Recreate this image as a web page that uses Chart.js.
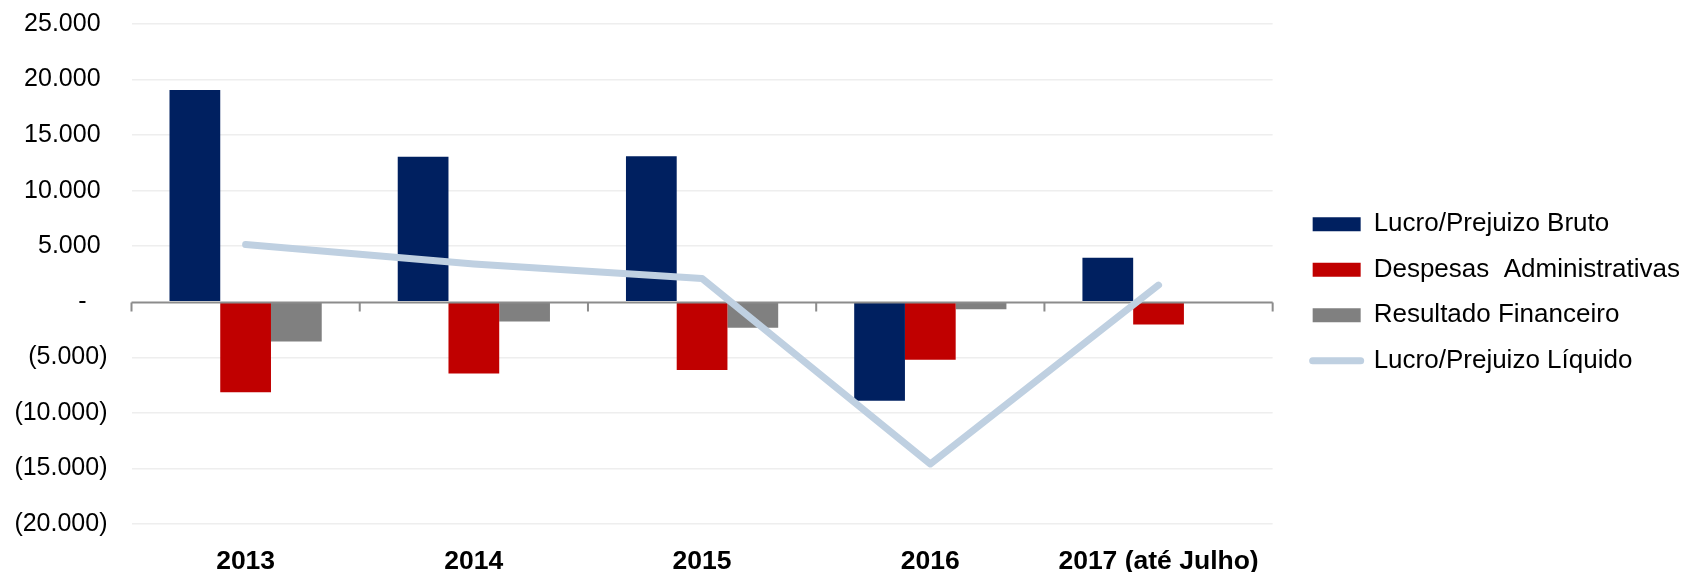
<!DOCTYPE html>
<html>
<head>
<meta charset="utf-8">
<script src="https://cdn.jsdelivr.net/npm/chart.js@4.4.1/dist/chart.umd.min.js"></script>
<style>
  html, body { margin: 0; padding: 0; background: #fff; }
  #wrap { width: 1690px; height: 572px; }
</style>
</head>
<body>
<div id="wrap"><canvas id="chart" width="1690" height="572"></canvas></div>
<script>
const years = ['2013', '2014', '2015', '2016', '2017 (até Julho)'];
const lucroBruto = [19050, 13060, 13100, -8900, 3960];
const despesasAdm = [-8140, -6460, -6130, -5220, -2040];
const resultadoFin = [-3570, -1780, -2340, -680, -120];
const lucroLiquido = [5150, 3400, 2100, -14600, 1500];
const yTicks = [-20000, -15000, -10000, -5000, 0, 5000, 10000, 15000, 20000, 25000];

const FONT = "'Liberation Sans', Arial, sans-serif";
const AXIS_GRAY = '#8c8c8c';

function fmt(v) {
  const s = String(Math.abs(v)).replace(/\B(?=(\d{3})+(?!\d))/g, '.');
  if (v > 0) return s + '\u2008';
  if (v < 0) return '(' + s + ')';
  return '-\u2007\u2008';
}

// zero line with the little category ticks, drawn over the bars but under the line
const zeroAxis = {
  id: 'zeroAxis',
  afterDatasetDraw(chart, args) {
    if (args.index !== 0) return;
    const { ctx, chartArea, scales: { x, y } } = chart;
    const y0 = Math.round(y.getPixelForValue(0)) + 0.5;
    const n = years.length;
    const step = (x.right - x.left) / n;
    ctx.save();
    ctx.strokeStyle = AXIS_GRAY;
    ctx.lineWidth = 2;
    ctx.beginPath();
    ctx.moveTo(chartArea.left, y0);
    ctx.lineTo(chartArea.right, y0);
    for (let i = 0; i <= n; i++) {
      const px = x.left + i * step;
      ctx.moveTo(px, y0);
      ctx.lineTo(px, y0 + 9);
    }
    ctx.stroke();
    ctx.restore();
  }
};

// small vertical nudge so the legend block sits where the original has it
const legendNudge = {
  id: 'legendNudge',
  afterLayout(chart) {
    chart.legend.top -= 5.5;
    chart.legend.bottom -= 5.5;
  }
};

new Chart(document.getElementById('chart'), {
  data: {
    labels: years,
    datasets: [
      { type: 'bar', label: 'Lucro/Prejuizo Bruto', data: lucroBruto, backgroundColor: '#002060' },
      { type: 'bar', label: 'Despesas  Administrativas', data: despesasAdm, backgroundColor: '#C00000' },
      { type: 'bar', label: 'Resultado Financeiro', data: resultadoFin, backgroundColor: '#808080' },
      {
        type: 'line', label: 'Lucro/Prejuizo Líquido', data: lucroLiquido,
        borderColor: '#BFD0E1', borderWidth: 7, pointRadius: 0, tension: 0,
        borderCapStyle: 'round', borderJoinStyle: 'round', order: -1
      }
    ]
  },
  options: {
    responsive: false,
    animation: false,
    layout: { padding: { left: 10, top: 24, right: 0, bottom: 0 } },
    datasets: { bar: { categoryPercentage: 0.667, barPercentage: 1.0 } },
    scales: {
      x: {
        grid: { display: false, drawTicks: false },
        border: { display: false },
        ticks: { color: '#000', padding: 22, font: { family: FONT, size: 26.5, weight: 'bold' } },
        afterFit(s) { s.height = 48; }
      },
      y: {
        min: -20000,
        max: 25000,
        afterBuildTicks(s) { s.ticks = yTicks.map(v => ({ value: v })); },
        grid: {
          drawTicks: false,
          lineWidth: 1.5,
          color: c => c.tick && c.tick.value === 0 ? 'rgba(0,0,0,0)' : '#EEEEEE'
        },
        border: { display: false },
        ticks: { color: '#000', padding: 24, font: { family: FONT, size: 25 }, callback: v => fmt(v) },
        afterFit(s) {
          s.width = 121.5;
          s.paddingTop = 0;
          s.paddingBottom = 0;
        }
      },
      gap: {
        type: 'linear',
        position: 'right',
        grid: { display: false, drawTicks: false },
        border: { display: false },
        ticks: { display: false },
        afterFit(s) { s.width = 20.5; }
      }
    },
    plugins: {
      tooltip: { enabled: false },
      legend: {
        position: 'right',
        maxWidth: 430,
        labels: {
          color: '#000',
          font: { family: FONT, size: 26 },
          padding: 19.5,
          usePointStyle: true,
          pointStyleWidth: 48,
          boxHeight: 14,
          generateLabels: chart => chart.data.datasets.map((ds, i) => {
            const isLine = ds.type === 'line';
            return {
              text: ds.label,
              datasetIndex: i,
              fillStyle: isLine ? 'rgba(0,0,0,0)' : ds.backgroundColor,
              strokeStyle: isLine ? ds.borderColor : ds.backgroundColor,
              lineWidth: isLine ? 7 : 0,
              lineCap: 'round',
              pointStyle: isLine ? 'line' : 'rect',
              fontColor: '#000',
              hidden: false
            };
          })
        }
      }
    }
  },
  plugins: [zeroAxis, legendNudge]
});
</script>
</body>
</html>
